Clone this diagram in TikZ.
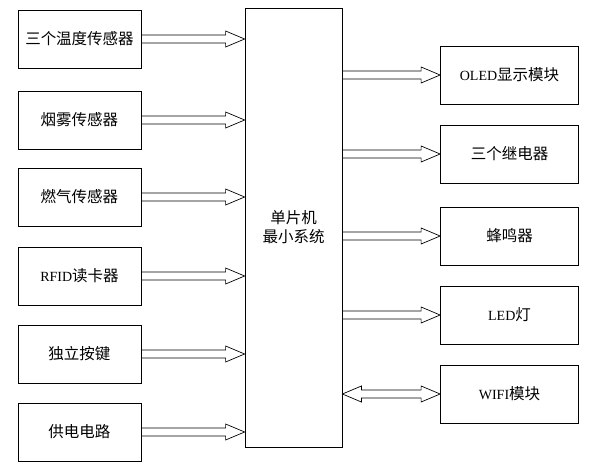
\documentclass[tikz,border=0pt]{standalone}
\usepackage{fontspec}
\setmainfont{Liberation Serif}
\newfontfamily\cjk{Noto Sans CJK SC}
\usepackage{tikz}
\usetikzlibrary{calc}

\newcommand{\lat}[1]{{\rmfamily\fontsize{14}{19}\selectfont #1}}
\newcommand{\fatarrow}[2]{%
  \draw[arrowline] let \p1=(#1), \p2=(#2) in
    (\x1,\y1+4pt) -- (\x2-19pt,\y1+4pt) -- (\x2-19pt,\y1+8pt) -- (\x2,\y1)
    -- (\x2-19pt,\y1-8pt) -- (\x2-19pt,\y1-4pt) -- (\x1,\y1-4pt) -- cycle;}
\newcommand{\fatarrowboth}[2]{%
  \draw[arrowline] let \p1=(#1), \p2=(#2) in
    (\x1,\y1) -- (\x1+19pt,\y1+8pt) -- (\x1+19pt,\y1+4pt) -- (\x2-19pt,\y1+4pt)
    -- (\x2-19pt,\y1+8pt) -- (\x2,\y1) -- (\x2-19pt,\y1-8pt) -- (\x2-19pt,\y1-4pt)
    -- (\x1+19pt,\y1-4pt) -- (\x1+19pt,\y1-8pt) -- cycle;}

\tikzset{
  unitbox/.style={draw, line width=0.8pt, inner sep=0pt,
    font=\cjk\fontsize{15.5}{19}\selectfont},
  inbox/.style={unitbox, minimum width=123pt, minimum height=58pt},
  outbox/.style={unitbox, minimum width=138pt, minimum height=58pt},
  arrowline/.style={draw=black, line width=0.7pt, fill=white}
}

\begin{document}
\begin{tikzpicture}[x=1pt, y=-1pt]
  \useasboundingbox (0,0) rectangle (598,469);

  % inputs
  \node[inbox] (temp) at (79.5,39) {三个温度传感器};
  \node[inbox] (smoke) at (79.5,120) {烟雾传感器};
  \node[inbox] (gas) at (79.5,197) {燃气传感器};
  \node[inbox] (rfid) at (79.5,276) {\lat{RFID}读卡器};
  \node[inbox] (key) at (79.5,354) {独立按键};
  \node[inbox] (power) at (79.5,432) {供电电路};

  % controller
  \node[unitbox, minimum width=97pt, minimum height=439pt, align=center]
    (mcu) at (293.5,227.5) {单片机\\最小系统};

  % outputs
  \node[outbox] (oled) at (509.5,75) {\lat{OLED}显示模块};
  \node[outbox] (relay) at (509.5,154) {三个继电器};
  \node[outbox] (buzzer) at (509.5,236) {蜂鸣器};
  \node[outbox] (led) at (509.5,315) {\lat{LED}灯};
  \node[outbox] (wifi) at (509.5,394) {\lat{WIFI}模块};

  \fatarrow{temp.east}{mcu.west |- temp.east}
  \fatarrow{smoke.east}{mcu.west |- smoke.east}
  \fatarrow{gas.east}{mcu.west |- gas.east}
  \fatarrow{rfid.east}{mcu.west |- rfid.east}
  \fatarrow{key.east}{mcu.west |- key.east}
  \fatarrow{power.east}{mcu.west |- power.east}

  \fatarrow{mcu.east |- oled.west}{oled.west}
  \fatarrow{mcu.east |- relay.west}{relay.west}
  \fatarrow{mcu.east |- buzzer.west}{buzzer.west}
  \fatarrow{mcu.east |- led.west}{led.west}
  \fatarrowboth{mcu.east |- wifi.west}{wifi.west}
\end{tikzpicture}
\end{document}
